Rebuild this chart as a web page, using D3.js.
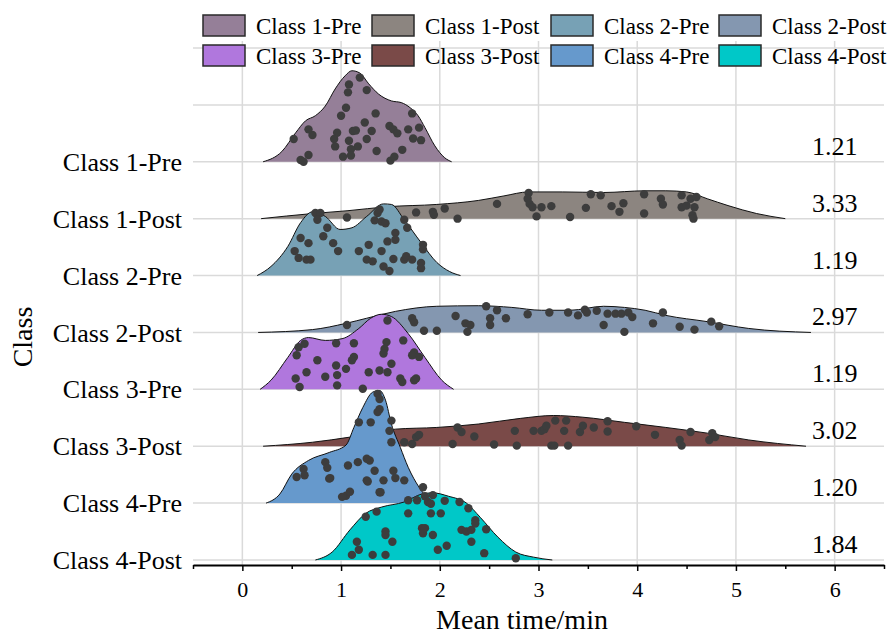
<!DOCTYPE html>
<html>
<head>
<meta charset="utf-8">
<script src="https://cdn.jsdelivr.net/npm/d3@7"></script>
<style>
  body { margin: 0; background: #fff; }
  text { font-family: "Liberation Serif", "Times New Roman", serif; fill: #000; }
</style>
</head>
<body>
<div id="chart-area"></div>
<script>
// ridgeline of mean time per class
const categories = ["Class 1-Pre", "Class 1-Post", "Class 2-Pre", "Class 2-Post",
                    "Class 3-Pre", "Class 3-Post", "Class 4-Pre", "Class 4-Post"];
const meanLabels = ["1.21", "3.33", "1.19", "2.97", "1.19", "3.02", "1.20", "1.84"];
const fillColors = ["#957f98", "#8c8580", "#77a1b5", "#8497b0",
                    "#b077dd", "#7a4a48", "#6699cc", "#00c8c8"];
const xTickValues = [0, 1, 2, 3, 4, 5, 6];

// density outlines: [mean time, height in row units]
const density1Pre = [[0.21,0],[0.40,0.18],[0.54,0.51],[0.64,0.72],[0.74,0.81],[0.84,0.98],[0.94,1.28],[1.04,1.51],[1.11,1.60],[1.19,1.56],[1.28,1.37],[1.38,1.19],[1.51,1.07],[1.61,1.04],[1.70,0.95],[1.78,0.81],[1.85,0.60],[1.95,0.28],[2.05,0.07],[2.12,0]];
const density1Post = [[0.19,0],[0.71,0.09],[1.07,0.14],[1.47,0.21],[1.97,0.25],[2.39,0.32],[2.65,0.40],[2.90,0.47],[3.24,0.47],[3.66,0.46],[4.08,0.49],[4.29,0.49],[4.50,0.47],[4.71,0.35],[4.92,0.23],[5.21,0.09],[5.50,0]];
const density2Pre = [[0.15,0],[0.29,0.16],[0.46,0.51],[0.59,0.93],[0.71,1.12],[0.84,1.04],[0.99,0.81],[1.11,0.84],[1.26,1.04],[1.43,1.26],[1.51,1.25],[1.64,0.98],[1.81,0.58],[1.97,0.23],[2.10,0.07],[2.21,0]];
const density2Post = [[0.16,0],[0.71,0.05],[1.05,0.16],[1.26,0.25],[1.55,0.37],[1.97,0.46],[2.39,0.47],[2.73,0.44],[3.03,0.39],[3.32,0.39],[3.66,0.46],[3.87,0.44],[4.08,0.39],[4.29,0.30],[4.71,0.19],[5.13,0.07],[5.76,0]];
const density3Pre = [[0.18,0],[0.29,0.16],[0.46,0.56],[0.59,0.86],[0.67,0.91],[0.84,0.86],[1.01,0.89],[1.18,1.07],[1.30,1.25],[1.41,1.32],[1.51,1.28],[1.68,0.98],[1.85,0.56],[2.02,0.16],[2.14,0]];
const density3Post = [[0.21,0],[0.71,0.07],[1.09,0.16],[1.55,0.30],[1.97,0.33],[2.39,0.39],[2.82,0.49],[3.15,0.54],[3.45,0.51],[3.87,0.42],[4.29,0.33],[4.71,0.23],[5.13,0.11],[5.71,0]];
const density4Pre = [[0.24,0],[0.38,0.16],[0.50,0.51],[0.67,0.75],[0.88,0.89],[1.05,1.02],[1.13,1.33],[1.22,1.68],[1.32,1.95],[1.39,1.98],[1.45,1.81],[1.51,1.39],[1.60,0.98],[1.68,0.63],[1.79,0.28],[1.89,0.07],[1.97,0]];
const density4Post = [[0.74,0],[0.91,0.14],[1.09,0.53],[1.25,0.82],[1.41,0.93],[1.64,1.02],[1.82,1.16],[1.93,1.18],[2.09,1.12],[2.27,1.00],[2.41,0.75],[2.59,0.40],[2.77,0.14],[2.95,0.05],[3.14,0]];

// raw points: [mean time, height above the row in row units]
const dots1Pre = [[1.19,1.48],[1.08,1.36],[1.07,1.22],[1.26,1.26],[1.05,0.95],[1.00,0.81],[1.35,0.85],[1.24,0.69],[1.12,0.54],[1.15,0.55],[0.96,0.51],[0.93,0.40],[1.08,0.37],[1.17,0.27],[1.10,0.22],[1.02,0.09],[1.10,0.11],[0.94,0.27],[0.71,0.47],[0.67,0.57],[0.52,0.40],[0.67,0.12],[0.59,0.03],[0.62,0.00],[1.31,0.54],[1.26,0.40],[1.36,0.19],[1.49,0.63],[1.53,0.57],[1.57,0.50],[1.50,0.02],[1.54,0.09],[1.62,0.21],[1.68,0.57],[1.72,0.85],[1.79,0.60],[1.73,0.41],[1.81,0.38]];
const dots1Post = [[1.06,0.02],[1.76,0.11],[1.93,0.12],[1.94,0.07],[2.05,0.18],[2.18,0.00],[2.58,0.26],[2.90,0.45],[2.89,0.35],[2.91,0.26],[2.94,0.20],[2.98,0.04],[3.03,0.20],[3.13,0.22],[3.32,0.03],[3.48,0.19],[3.53,0.43],[3.63,0.41],[3.74,0.22],[3.82,0.12],[3.86,0.27],[4.07,0.43],[4.07,0.09],[4.24,0.35],[4.26,0.25],[4.45,0.41],[4.45,0.20],[4.50,0.23],[4.54,0.35],[4.56,0.06],[4.58,0.20],[4.60,0.38],[4.57,0.00]];
const dots2Pre = [[0.74,1.10],[0.79,1.10],[0.76,0.98],[0.86,0.84],[0.82,0.69],[0.59,0.66],[0.67,0.57],[0.92,0.57],[0.97,0.43],[0.53,0.43],[0.57,0.31],[0.65,0.28],[0.69,0.28],[1.18,0.43],[1.26,0.28],[1.28,0.54],[1.32,0.25],[1.41,0.43],[1.43,0.16],[1.49,0.08],[1.47,0.60],[1.55,0.75],[1.55,0.63],[1.53,0.29],[1.64,0.28],[1.66,0.34],[1.67,0.84],[1.64,0.98],[1.41,0.95],[1.34,0.97],[1.37,1.10],[1.39,1.16],[1.45,0.92],[1.81,0.22],[1.81,0.13],[1.83,0.54],[1.83,0.46],[1.72,0.28]];
const dots2Post = [[1.06,0.13],[1.72,0.25],[1.74,0.18],[1.84,0.03],[1.97,0.03],[2.16,0.29],[2.26,0.16],[2.28,0.01],[2.31,0.13],[2.47,0.46],[2.51,0.25],[2.51,0.13],[2.58,0.39],[2.67,0.25],[2.89,0.32],[3.11,0.35],[3.30,0.35],[3.40,0.30],[3.47,0.40],[3.49,0.35],[3.59,0.38],[3.66,0.13],[3.70,0.33],[3.78,0.33],[3.84,0.33],[3.87,0.01],[3.91,0.35],[3.95,0.27],[4.16,0.16],[4.26,0.35],[4.43,0.10],[4.58,0.05],[4.75,0.19],[4.83,0.11]];
const dots3Pre = [[1.47,1.21],[1.46,0.83],[1.44,0.71],[1.43,0.63],[1.63,0.86],[1.74,0.65],[1.79,0.57],[1.72,0.60],[1.39,0.33],[1.47,0.30],[1.51,0.45],[1.28,0.30],[1.13,0.81],[1.13,0.57],[1.11,0.51],[0.95,0.81],[0.95,0.42],[0.96,0.25],[0.96,0.07],[0.76,0.51],[0.65,0.30],[0.55,0.60],[0.57,0.74],[0.63,0.80],[0.54,0.19],[0.58,0.04],[1.22,0.01],[1.60,0.19],[1.62,0.13],[1.74,0.16],[1.76,0.19],[1.05,0.36],[0.84,0.22]];
const dots3Post = [[1.64,0.07],[1.72,0.04],[1.76,0.16],[1.79,0.20],[2.13,0.04],[2.18,0.33],[2.22,0.25],[2.35,0.17],[2.55,0.03],[2.76,0.27],[2.78,0.01],[2.95,0.27],[3.03,0.27],[3.06,0.30],[3.08,0.36],[3.13,0.01],[3.16,0.01],[3.17,0.45],[3.26,0.27],[3.28,0.45],[3.30,0.01],[3.42,0.25],[3.45,0.36],[3.56,0.33],[3.70,0.44],[3.70,0.26],[3.99,0.35],[4.18,0.20],[4.43,0.11],[4.45,0.01],[4.54,0.25],[4.73,0.11],[4.76,0.23],[4.79,0.16]];
const dots4Pre = [[1.37,1.92],[1.39,1.83],[1.39,1.65],[1.37,1.60],[1.18,1.42],[1.30,1.42],[1.51,1.45],[1.49,1.27],[1.51,1.07],[1.29,0.75],[1.17,0.72],[1.26,0.78],[1.07,0.66],[0.84,0.72],[0.86,0.62],[0.88,0.43],[0.62,0.60],[0.63,0.49],[0.55,0.46],[1.26,0.40],[1.43,0.40],[1.53,0.57],[1.64,0.40],[1.34,0.57],[1.39,0.19],[1.05,0.13],[1.01,0.11],[1.83,0.28],[0.89,0.44],[1.27,0.38],[1.55,0.44],[1.09,0.20],[1.40,0.19]];
const dots4Post = [[1.25,0.76],[1.36,0.85],[1.68,1.05],[1.77,1.05],[1.85,1.12],[1.88,1.02],[1.93,1.14],[1.91,0.99],[2.05,1.04],[2.20,1.02],[2.29,0.91],[1.68,0.82],[1.91,0.82],[2.01,0.82],[1.16,0.32],[1.18,0.18],[1.11,0.09],[1.32,0.09],[1.45,0.50],[1.45,0.44],[1.45,0.09],[1.52,0.32],[1.82,0.56],[1.83,0.47],[1.85,0.56],[1.98,0.18],[2.07,0.25],[2.22,0.53],[2.27,0.50],[2.32,0.53],[2.32,0.32],[2.36,0.70],[2.36,0.64],[2.47,0.54],[2.45,0.12],[2.77,0.03],[1.93,0.44]];

const densities = [density1Pre, density1Post, density2Pre, density2Post,
                   density3Pre, density3Post, density4Pre, density4Post];
const dotSets = [dots1Pre, dots1Post, dots2Pre, dots2Post,
                 dots3Pre, dots3Post, dots4Pre, dots4Post];

const width = 891;
const height = 636;
const plotLeft = 193, plotRight = 884, plotTop = 41, axisY = 565;

const x = d3.scaleLinear().domain([-0.5, 6.5]).range([plotLeft, plotRight]);
// row index 0 = Class 1-Pre; two empty rows of grid above
const y = d3.scaleLinear().domain([-2, 7]).range([48, 560]);

const svg = d3.select("#chart-area")
    .append("svg")
        .attr("width", width)
        .attr("height", height);

// grid
const grid = svg.append("g").attr("class", "grid")
    .attr("stroke", "#dadada")
    .attr("stroke-width", 1.5);
grid.selectAll("line.v").data(xTickValues).enter().append("line")
    .attr("class", "v")
    .attr("x1", d => x(d)).attr("x2", d => x(d))
    .attr("y1", plotTop).attr("y2", axisY);
grid.selectAll("line.h").data(d3.range(-2, 8)).enter().append("line")
    .attr("class", "h")
    .attr("x1", plotLeft).attr("x2", plotRight)
    .attr("y1", d => y(d)).attr("y2", d => y(d));

// ridges, top row first so lower rows sit on top
const area = (i) => d3.area()
    .x(d => x(d[0]))
    .y0(y(i))
    .y1(d => y(i - d[1]))
    .curve(d3.curveMonotoneX);
const outline = (i) => d3.line()
    .x(d => x(d[0]))
    .y(d => y(i - d[1]))
    .curve(d3.curveMonotoneX);

categories.forEach((cat, i) => {
    const g = svg.append("g").attr("class", "ridge");
    g.append("path")
        .datum(densities[i])
        .attr("d", area(i))
        .attr("fill", fillColors[i]);
    g.append("path")
        .datum(densities[i])
        .attr("d", outline(i))
        .attr("fill", "none")
        .attr("stroke", "#111")
        .attr("stroke-width", 1);
    g.selectAll("circle").data(dotSets[i]).enter().append("circle")
        .attr("cx", d => x(d[0]))
        .attr("cy", d => y(i - d[1]))
        .attr("r", 4.2)
        .attr("fill", "#3d3d3d");
});

// x axis: majors with labels, halves as minor ticks
svg.append("g")
    .attr("class", "x minor")
    .attr("transform", `translate(0, ${axisY})`)
    .call(d3.axisBottom(x).tickValues(d3.range(-0.5, 6.6, 1)).tickSize(4).tickSizeOuter(0).tickFormat(""))
    .call(g => g.select(".domain").remove())
    .selectAll("line").attr("stroke-width", 1.5);
const xAxis = svg.append("g")
    .attr("class", "x axis")
    .attr("transform", `translate(0, ${axisY})`)
    .call(d3.axisBottom(x).tickValues(xTickValues).tickSize(6).tickSizeOuter(0)
        .tickPadding(10).tickFormat(d3.format("d")));
xAxis.select(".domain").attr("stroke-width", 2);
xAxis.selectAll("line").attr("stroke-width", 1.5);
xAxis.selectAll("text")
    .attr("font-size", "22px")
    .style("font-family", "'Liberation Serif', 'Times New Roman', serif");

svg.append("text")
    .attr("class", "x axis-label")
    .attr("x", 522)
    .attr("y", 629)
    .attr("text-anchor", "middle")
    .attr("font-size", "28px")
    .text("Mean time/min");

// category labels
svg.append("g").selectAll("text").data(categories).enter().append("text")
    .attr("x", 182)
    .attr("y", (d, i) => y(i))
    .attr("dy", "0.35em")
    .attr("text-anchor", "end")
    .attr("font-size", "26px")
    .text(d => d);

svg.append("text")
    .attr("class", "y axis-label")
    .attr("transform", "rotate(-90)")
    .attr("x", -337)
    .attr("y", 32)
    .attr("text-anchor", "middle")
    .attr("font-size", "28px")
    .text("Class");

// mean values on the right
svg.append("g").selectAll("text").data(meanLabels).enter().append("text")
    .attr("x", x(6))
    .attr("y", (d, i) => y(i) - 7)
    .attr("text-anchor", "middle")
    .attr("font-size", "26px")
    .text(d => d);

// legend, 2 rows x 4 columns
const legend = svg.append("g").attr("class", "legend");
const boxW = 42, boxH = 21;
const rowY = [15, 45];
const colX = [203, 372, 551, 719];
categories.forEach((cat, k) => {
    const r = Math.floor(k / 4), c = k % 4;
    legend.append("rect")
        .attr("x", colX[c]).attr("y", rowY[r])
        .attr("width", boxW).attr("height", boxH)
        .attr("fill", fillColors[k])
        .attr("stroke", "#2a2a2a")
        .attr("stroke-width", 1.5);
    legend.append("text")
        .attr("x", colX[c] + boxW + 11)
        .attr("y", rowY[r] + boxH / 2)
        .attr("dy", "0.35em")
        .attr("font-size", "23px")
        .text(cat);
});
</script>
</body>
</html>
